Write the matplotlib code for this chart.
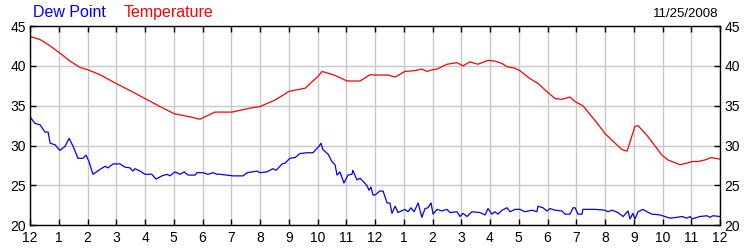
import matplotlib
matplotlib.use("Agg")
import matplotlib.pyplot as plt

plt.rcParams["font.family"] = ["Liberation Sans", "DejaVu Sans"]

# hours since midnight, temperature (F)
temp_hours = [0.00, 0.35, 0.70, 1.04, 1.39, 1.74, 2.02, 2.43, 2.99, 3.48,
              4.00, 4.52, 5.01, 5.57, 5.91, 6.43, 7.03, 7.65, 8.00, 8.52,
              9.01, 9.57, 10.02, 10.16, 10.61, 11.03, 11.48, 11.83, 12.00, 12.45,
              12.70, 13.04, 13.39, 13.63, 13.81, 13.98, 14.16, 14.50, 14.85, 15.06,
              15.30, 15.58, 15.93, 16.17, 16.42, 16.59, 16.87, 17.04, 17.39, 17.67,
              17.91, 18.26, 18.50, 18.78, 18.96, 19.23, 19.55, 19.90, 20.00, 20.35,
              20.59, 20.77, 20.83, 21.04, 21.15, 21.50, 21.98, 22.19, 22.61, 22.85,
              23.03, 23.23, 23.48, 23.69, 24.00]
temperature = [43.7, 43.3, 42.5, 41.6, 40.6, 39.8, 39.5, 38.9, 37.8, 36.9,
               35.9, 34.9, 34.0, 33.6, 33.3, 34.2, 34.2, 34.7, 34.9, 35.7,
               36.8, 37.2, 38.7, 39.3, 38.8, 38.1, 38.1, 38.9, 38.85, 38.85,
               38.6, 39.3, 39.4, 39.6, 39.3, 39.5, 39.6, 40.2, 40.4, 40.0,
               40.5, 40.2, 40.7, 40.6, 40.3, 39.9, 39.7, 39.4, 38.4, 37.8,
               37.0, 35.9, 35.8, 36.1, 35.5, 35.0, 33.6, 32.0, 31.5, 30.3,
               29.5, 29.3, 30.0, 32.4, 32.5, 31.1, 28.8, 28.2, 27.6, 27.8,
               28.0, 28.0, 28.2, 28.5, 28.3]

# hours since midnight, dew point (F)
dew_hours = [0.00, 0.17, 0.35, 0.52, 0.63, 0.70, 0.87, 1.04, 1.22, 1.36,
             1.50, 1.67, 1.84, 1.95, 2.05, 2.19, 2.43, 2.61, 2.71, 2.89,
             3.13, 3.30, 3.48, 3.58, 3.65, 3.83, 4.00, 4.24, 4.38, 4.59,
             4.77, 4.87, 5.04, 5.22, 5.36, 5.50, 5.74, 5.81, 6.02, 6.19,
             6.37, 6.50, 6.61, 6.85, 7.06, 7.41, 7.55, 7.90, 8.00, 8.24,
             8.45, 8.56, 8.77, 8.87, 9.04, 9.22, 9.39, 9.63, 9.84, 10.05,
             10.12, 10.19, 10.37, 10.50, 10.61, 10.68, 10.78, 10.92, 11.06, 11.20,
             11.23, 11.37, 11.48, 11.72, 11.79, 11.86, 11.93, 12.00, 12.17, 12.28,
             12.42, 12.52, 12.59, 12.70, 12.80, 13.04, 13.15, 13.25, 13.36, 13.50,
             13.63, 13.74, 13.84, 13.95, 14.02, 14.16, 14.33, 14.50, 14.61, 14.85,
             14.96, 15.06, 15.20, 15.37, 15.65, 15.83, 15.93, 16.07, 16.17, 16.28,
             16.42, 16.59, 16.70, 16.87, 17.04, 17.22, 17.46, 17.63, 17.67, 17.84,
             17.98, 18.09, 18.26, 18.50, 18.61, 18.78, 18.89, 18.96, 19.06, 19.20,
             19.23, 19.65, 20.00, 20.10, 20.24, 20.45, 20.63, 20.80, 20.87, 20.97,
             21.04, 21.15, 21.32, 21.46, 21.63, 21.91, 22.09, 22.26, 22.50, 22.68,
             22.85, 22.96, 23.03, 23.30, 23.55, 23.65, 23.76, 24.00]
dew_point = [33.6, 32.8, 32.6, 31.7, 31.7, 30.3, 30.1, 29.4, 29.9, 30.9,
             29.9, 28.4, 28.4, 28.8, 28.0, 26.4, 27.0, 27.4, 27.2, 27.7,
             27.7, 27.3, 27.2, 26.8, 27.1, 26.8, 26.4, 26.4, 25.8, 26.2,
             26.4, 26.2, 26.7, 26.4, 26.7, 26.3, 26.3, 26.6, 26.6, 26.4,
             26.6, 26.4, 26.4, 26.3, 26.2, 26.2, 26.6, 26.8, 26.6, 26.7,
             27.1, 26.9, 27.7, 27.8, 28.4, 28.5, 29.0, 29.1, 29.1, 29.9,
             30.3, 29.5, 28.9, 28.0, 27.6, 26.3, 26.7, 25.3, 26.3, 26.4,
             26.9, 25.7, 25.9, 25.0, 24.4, 24.8, 23.8, 23.8, 24.3, 24.3,
             22.8, 22.8, 21.5, 22.4, 21.6, 22.0, 21.7, 22.2, 21.7, 22.8,
             21.0, 22.1, 22.2, 22.8, 21.4, 22.0, 21.8, 22.0, 21.6, 21.7,
             21.1, 21.5, 21.1, 21.7, 21.6, 21.3, 22.1, 21.4, 21.7, 21.4,
             21.9, 22.2, 21.7, 22.0, 22.0, 21.7, 21.9, 21.7, 22.4, 22.2,
             21.8, 22.1, 21.9, 21.8, 21.4, 21.4, 22.2, 22.2, 21.4, 21.4,
             22.0, 22.0, 21.9, 21.7, 21.9, 21.6, 21.1, 21.8, 20.8, 21.5,
             20.8, 21.7, 22.0, 21.7, 21.4, 21.3, 21.1, 20.9, 21.0, 21.1,
             20.9, 21.1, 20.8, 21.1, 21.2, 21.0, 21.2, 21.1]

hour_ticks = list(range(25))
hour_labels = ["12"] + [str(h) for h in range(1, 12)] + ["12"] + [str(h) for h in range(1, 12)] + ["12"]
temp_ticks = [20, 25, 30, 35, 40, 45]

fig = plt.figure(figsize=(7.5, 2.5), dpi=100)
ax = fig.add_axes([30 / 750, 1 - 225.3 / 250, 690 / 750, 199.3 / 250])

ax.plot(temp_hours, temperature, color="#ff0000", lw=0.9)
ax.plot(dew_hours, dew_point, color="#0000ff", lw=0.9)

ax.set_xlim(0, 24)
ax.set_ylim(20, 45)
ax.set_xticks(hour_ticks)
ax.set_xticklabels(hour_labels)
ax.set_yticks(temp_ticks)
ax.grid(True, color="#c8c8c8", lw=1.0)
ax.set_axisbelow(True)
ax.tick_params(axis="both", direction="in", length=4, width=1, colors="black",
               labelsize=10, top=True, right=True, labelright=True, pad=3)
ax.tick_params(axis="x", pad=4)
for s in ax.spines.values():
    s.set_linewidth(1.0)

fig.text(33 / 750, 1 - 17 / 250, "Dew Point", color="#0000ff", fontsize=11.5, va="baseline")
fig.text(124 / 750, 1 - 17 / 250, "Temperature", color="#ff0000", fontsize=11.5, va="baseline")
fig.text(718 / 750, 1 - 17 / 250, "11/25/2008", color="black", fontsize=9.5,
         va="baseline", ha="right")

fig.savefig("out.png", dpi=100)
